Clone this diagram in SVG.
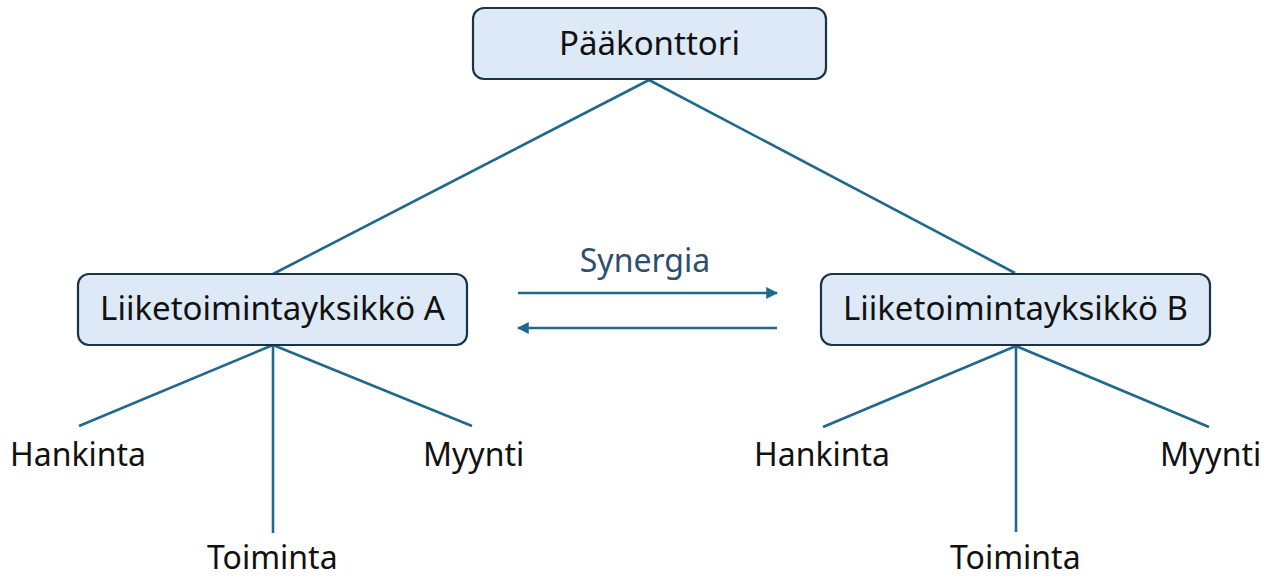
<svg xmlns="http://www.w3.org/2000/svg" width="1273" height="578" viewBox="0 0 1273 578">
  <style>
    .box { fill: #dde9f6; stroke: #1b3445; stroke-width: 2.2; }
    .lbl { font-family: "Noto Sans", "Liberation Sans", sans-serif; font-size: 33px; fill: #111111; text-anchor: middle; }
    .leaf { font-family: "Noto Sans", "Liberation Sans", sans-serif; font-size: 32px; fill: #111111; }
    .conn { stroke: #21698c; stroke-width: 2.6; fill: none; }
    .syn { font-family: "Noto Sans", "Liberation Sans", sans-serif; font-size: 32px; fill: #2b4f70; text-anchor: middle; }
  </style>
  <defs>
    <marker id="arrow" viewBox="0 0 10 10" refX="9" refY="5" markerWidth="4.6" markerHeight="4.6" orient="auto-start-reverse" markerUnits="strokeWidth">
      <path d="M0,0 L10,5 L0,10 Z" fill="#21698c"/>
    </marker>
  </defs>
  <rect width="1273" height="578" fill="#ffffff"/>

  <g id="connectors">
    <line class="conn" x1="649" y1="80" x2="273" y2="274"/>
    <line class="conn" x1="649" y1="80" x2="1015" y2="273"/>
    <line class="conn" x1="273" y1="345" x2="79" y2="426"/>
    <line class="conn" x1="273" y1="345" x2="273" y2="533"/>
    <line class="conn" x1="273" y1="345" x2="472" y2="426"/>
    <line class="conn" x1="1016" y1="346" x2="823" y2="427"/>
    <line class="conn" x1="1016" y1="346" x2="1016" y2="532"/>
    <line class="conn" x1="1016" y1="346" x2="1209" y2="427"/>
    <line class="conn" x1="518" y1="293" x2="777" y2="293" marker-end="url(#arrow)"/>
    <line class="conn" x1="777" y1="328" x2="518" y2="328" marker-end="url(#arrow)"/>
    <text class="syn" x="645" y="272">Synergia</text>
  </g>

  <g id="paakonttori">
    <rect class="box" x="473" y="8" width="353" height="71" rx="11"/>
    <text class="lbl" x="649.5" y="55">Pääkonttori</text>
  </g>
  <g id="yksikko-a">
    <rect class="box" x="78" y="274" width="389" height="71" rx="11"/>
    <text class="lbl" x="272.5" y="320">Liiketoimintayksikkö A</text>
  </g>
  <g id="yksikko-b">
    <rect class="box" x="821" y="274" width="389" height="71" rx="11"/>
    <text class="lbl" x="1015.5" y="320">Liiketoimintayksikkö B</text>
  </g>

  <g id="a-hankinta"><text class="leaf" x="10" y="466">Hankinta</text></g>
  <g id="a-toiminta"><text class="leaf" x="207" y="569">Toiminta</text></g>
  <g id="a-myynti"><text class="leaf" x="423" y="466">Myynti</text></g>
  <g id="b-hankinta"><text class="leaf" x="754" y="466">Hankinta</text></g>
  <g id="b-toiminta"><text class="leaf" x="950" y="569">Toiminta</text></g>
  <g id="b-myynti"><text class="leaf" x="1160" y="466">Myynti</text></g>
</svg>
